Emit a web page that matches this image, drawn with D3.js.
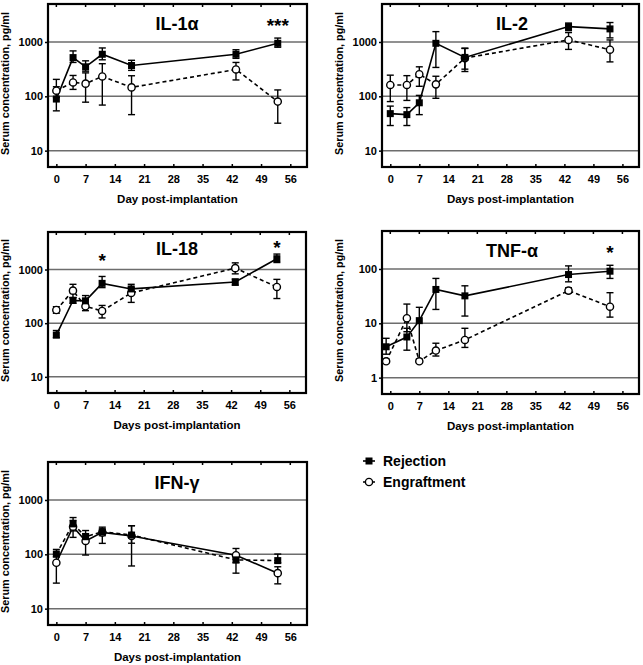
<!DOCTYPE html>
<html><head><meta charset="utf-8">
<script src="https://cdn.jsdelivr.net/npm/d3@7/dist/d3.min.js"></script>
<style>
body{margin:0;background:#fff;}
text{font-family:"Liberation Sans",Arial,sans-serif;font-weight:bold;fill:#000;}
</style></head>
<body><svg id="c" width="643" height="665"></svg>
<script>
// ---------- data ----------
const days = [0, 4, 7, 11, 18, 43, 53];
const tnfDays = [-1, 4, 7, 11, 18, 43, 53];
const xTicks = [0, 7, 14, 21, 28, 35, 42, 49, 56];
const yTicksMain = [10, 100, 1000];
const yTicksTnf = [1, 10, 100];
const seriesNames = ["Rejection", "Engraftment"];

// IL-1α
const il1aRej   = [89, 516, 349, 594, 369, 594, 946];
const il1aRejHi = [150, 685, 450, 776, 460, 720, 1180];
const il1aRejLo = [54, 420, 290, 470, 300, 500, 800];
const il1aEng   = [127, 180, 171, 232, 146, 312, 80];
const il1aEngHi = [205, 242, 270, 398, 239, 420, 131];
const il1aEngLo = [95, 134, 78, 69, 46, 200, 32];
// IL-2
const il2Rej   = [48, 46, 76, 945, 520, 1920, 1740];
const il2RejHi = [66, 62, 104, 1550, 770, 2230, 2280];
const il2RejLo = [29, 29, 46, 340, 316, 1620, 1190];
const il2Eng   = [162, 162, 255, 166, 505, 1090, 721];
const il2EngHi = [245, 240, 349, 234, 760, 1490, 1090];
const il2EngLo = [80, 84, 153, 92, 286, 730, 430];
// IL-18
const il18Rej   = [60, 265, 261, 552, 435, 584, 1590];
const il18RejHi = [73, 300, 327, 742, 530, 665, 1940];
const il18RejLo = [54, 235, 215, 460, 380, 510, 1350];
const il18Eng   = [176, 404, 206, 169, 366, 1060, 473];
const il18EngHi = [203, 530, 273, 214, 466, 1330, 655];
const il18EngLo = [153, 300, 171, 125, 244, 830, 288];
// TNF-α
const tnfRej   = [3.7, 5.6, 11.2, 42, 32, 79, 91];
const tnfRejHi = [5.3, 8.1, 19.7, 67, 49, 114, 117];
const tnfRejLo = [2.7, 3.2, 2.1, 18, 13.6, 58, 67];
const tnfEng   = [2.0, 12.4, 2.0, 3.15, 4.94, 40, 20.2];
const tnfEngHi = [2.2, 22.6, 2.2, 4.3, 8.1, 45, 36.6];
const tnfEngLo = [1.9, 7, 1.9, 2.5, 3.6, 36, 13];
// IFN-γ
const ifnRej   = [101, 363, 211, 261, 226, 79, 76.6];
const ifnRejHi = [123, 475, 274, 316, 336, 95, 101];
const ifnRejLo = [90, 270, 180, 159, 160, 45, 70];
const ifnEng   = [70, 322, 176, 253, 218, 96, 45];
const ifnEngHi = [100, 420, 240, 290, 336, 128, 59];
const ifnEngLo = [29.5, 205, 97, 220, 61, 70, 28.6];

// ---------- layout ----------
const svg = d3.select("#c");
const panels = [
  {title:"IL-1α", x:48, y:4, w:259, h:163, days:days, dom:[5,5000], ticks:yTicksMain,
   rej:[il1aRej,il1aRejHi,il1aRejLo], eng:[il1aEng,il1aEngHi,il1aEngLo],
   xlab:"Day post-implantation", tx:177, ty:30, yl:9, stars:[{d:53,v:2400,t:"***"}], swap:false},
  {title:"IL-2", x:382, y:4, w:257, h:163, days:days, dom:[5,5000], ticks:yTicksMain,
   rej:[il2Rej,il2RejHi,il2RejLo], eng:[il2Eng,il2EngHi,il2EngLo],
   xlab:"Days post-implantation", tx:512, ty:30, yl:343, stars:[], swap:false},
  {title:"IL-18", x:48, y:232, w:258, h:161, days:days, dom:[5,5000], ticks:yTicksMain,
   rej:[il18Rej,il18RejHi,il18RejLo], eng:[il18Eng,il18EngHi,il18EngLo],
   xlab:"Days post-implantation", tx:177, ty:255, yl:9, stars:[{d:11,v:1820,t:"*"},{d:53,v:3160,t:"*"}], swap:false},
  {title:"TNF-α", x:382, y:231, w:257, h:163, days:tnfDays, dom:[0.5,500], ticks:yTicksTnf,
   rej:[tnfRej,tnfRejHi,tnfRejLo], eng:[tnfEng,tnfEngHi,tnfEngLo],
   xlab:"Days post-implantation", tx:512, ty:257, yl:343, stars:[{d:53,v:240,t:"*"}], swap:false},
  {title:"IFN-γ", x:48, y:462, w:259, h:163, days:days, dom:[5,5000], ticks:yTicksMain,
   rej:[ifnRej,ifnRejHi,ifnRejLo], eng:[ifnEng,ifnEngHi,ifnEngLo],
   xlab:"Days post-implantation", tx:177, ty:489, yl:9, stars:[], swap:true}
];

panels.forEach(p => {
  const g = svg.append("g").attr("transform", `translate(${p.x},${p.y})`);
  const x = d3.scaleLinear().domain([-2, 60]).range([0, p.w]);
  const y = d3.scaleLog().domain(p.dom).range([p.h, 0]);

  // grid lines
  g.selectAll(".grid").data(p.ticks).join("line")
    .attr("x1", 0).attr("x2", p.w)
    .attr("y1", d => y(d)).attr("y2", d => y(d))
    .attr("stroke", "#6d6d6d").attr("stroke-width", 1.5);

  // y axis
  const ya = g.append("g").call(d3.axisLeft(y).tickValues(p.ticks).tickFormat(d3.format("d")).tickSize(3).tickPadding(2));
  ya.select(".domain").remove();
  ya.selectAll("line").attr("stroke", "#000").attr("stroke-width", 1.5);
  ya.selectAll("text").attr("font-size", 11).attr("font-family", "Liberation Sans, Arial, sans-serif").attr("font-weight", "bold");

  // x axis
  const xa = g.append("g").attr("transform", `translate(0,${p.h})`)
    .call(d3.axisBottom(x).tickValues(xTicks).tickSize(3).tickPadding(3));
  xa.select(".domain").remove();
  xa.selectAll("line").attr("stroke", "#000").attr("stroke-width", 1.5).attr("y2", -3);
  xa.selectAll("text").attr("font-size", 11).attr("font-family", "Liberation Sans, Arial, sans-serif").attr("font-weight", "bold").attr("dy", "0.95em");
  // top ticks
  g.selectAll(".tt").data(xTicks).join("line")
    .attr("x1", d => x(d)).attr("x2", d => x(d)).attr("y1", 0).attr("y2", 3)
    .attr("stroke", "#000").attr("stroke-width", 1.5);

  // frame
  g.append("rect").attr("x", 0).attr("y", 0).attr("width", p.w).attr("height", p.h)
    .attr("fill", "none").attr("stroke", "#000").attr("stroke-width", 2.2);

  // axis titles
  g.append("text").attr("x", p.w / 2).attr("y", p.h + 36).attr("text-anchor", "middle")
    .attr("font-size", 11.5).text(p.xlab);
  svg.append("text").attr("transform", `translate(${p.yl},${p.y + p.h / 2 - 2}) rotate(-90)`)
    .attr("text-anchor", "middle").attr("font-size", 10.8).text("Serum concentration, pg/ml");

  // title
  svg.append("text").attr("x", p.tx).attr("y", p.ty).attr("text-anchor", "middle")
    .attr("font-size", 18).text(p.title);

  // stars
  p.stars.forEach(s => {
    g.append("text").attr("x", x(s.d)).attr("y", y(s.v) + 11).attr("text-anchor", "middle")
      .attr("font-size", 19).text(s.t);
  });

  const series = [
    {vals:p.eng, dash: p.swap ? null : "4,3", marker:"circle"},
    {vals:p.rej, dash: p.swap ? "4,3" : null, marker:"square"}
  ];
  const line = d3.line().x(d => x(d[0])).y(d => y(d[1]));
  series.forEach(s => {
    const pts = p.days.map((d, i) => [d, s.vals[0][i], s.vals[1][i], s.vals[2][i]]);
    // error bars
    const eb = g.append("g");
    pts.forEach(q => {
      eb.append("line").attr("x1", x(q[0])).attr("x2", x(q[0])).attr("y1", y(q[2])).attr("y2", y(q[3]))
        .attr("stroke", "#000").attr("stroke-width", 1.4);
      [q[2], q[3]].forEach(v => {
        if (v !== q[1]) eb.append("line").attr("x1", x(q[0]) - 3.5).attr("x2", x(q[0]) + 3.5)
          .attr("y1", y(v)).attr("y2", y(v)).attr("stroke", "#000").attr("stroke-width", 1.4);
      });
    });
    g.append("path").datum(pts).attr("d", line).attr("fill", "none").attr("stroke", "#000")
      .attr("stroke-width", 1.6).attr("stroke-dasharray", s.dash);
  });
  // markers
  series.forEach(s => {
    const pts = p.days.map((d, i) => [d, s.vals[0][i]]);
    if (s.marker === "circle") {
      g.selectAll(null).data(pts).join("circle").attr("cx", d => x(d[0])).attr("cy", d => y(d[1]))
        .attr("r", 3.6).attr("fill", "#fff").attr("stroke", "#000").attr("stroke-width", 1.4);
    } else {
      g.selectAll(null).data(pts).join("rect").attr("x", d => x(d[0]) - 3.5).attr("y", d => y(d[1]) - 3.5)
        .attr("width", 7).attr("height", 7).attr("fill", "#000");
    }
  });
});

// legend
const lg = svg.append("g");
seriesNames.forEach((name, i) => {
  const cy = 461 + i * 21;
  lg.append("line").attr("x1", 363).attr("x2", 375).attr("y1", cy).attr("y2", cy)
    .attr("stroke", "#000").attr("stroke-width", 1.6).attr("stroke-dasharray", i ? "3,2" : null);
  if (i === 0) lg.append("rect").attr("x", 365.5).attr("y", cy - 3.5).attr("width", 7).attr("height", 7).attr("fill", "#000");
  else lg.append("circle").attr("cx", 369).attr("cy", cy).attr("r", 3.6).attr("fill", "#fff").attr("stroke", "#000").attr("stroke-width", 1.4);
  lg.append("text").attr("x", 383).attr("y", cy + 5).attr("font-size", 14).text(name);
});
</script></body></html>
